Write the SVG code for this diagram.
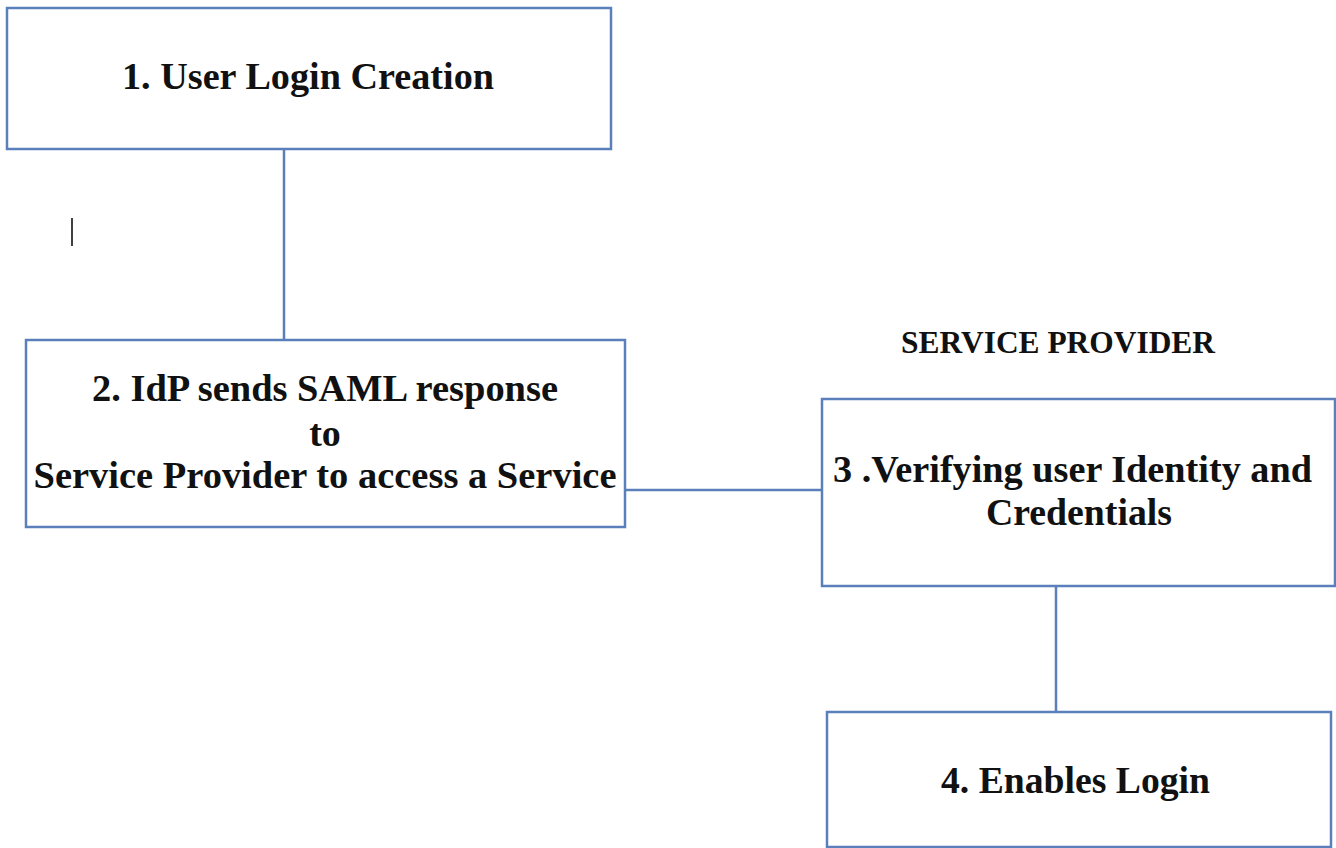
<svg xmlns="http://www.w3.org/2000/svg" width="1336" height="848" viewBox="0 0 1336 848">
  <style>
    .box { fill: #ffffff; stroke: #5a7fbb; stroke-width: 2.5; }
    .conn { stroke: #5a7fbb; stroke-width: 2.5; fill: none; }
    .t { font-family: "Liberation Serif", "Times New Roman", serif; font-weight: bold; font-size: 38px; fill: #111111; text-anchor: middle; }
    .hdr { font-family: "Liberation Serif", "Times New Roman", serif; font-weight: bold; font-size: 31px; fill: #111111; text-anchor: middle; }
  </style>
  <rect width="1336" height="848" fill="#ffffff"/>
  <g id="connectors">
    <line class="conn" x1="284" y1="149" x2="284" y2="340"/>
    <line class="conn" x1="625" y1="490" x2="822" y2="490"/>
    <line class="conn" x1="1056" y1="586" x2="1056" y2="712"/>
  </g>
  <g id="node1">
    <rect class="box" x="7" y="8" width="604" height="141"/>
    <text class="t" x="308" y="89" textLength="372" lengthAdjust="spacingAndGlyphs">1. User Login Creation</text>
  </g>
  <g id="node2">
    <rect class="box" x="26" y="340" width="599" height="187"/>
    <text class="t" x="325" y="401" textLength="466" lengthAdjust="spacingAndGlyphs">2. IdP sends SAML response</text>
    <text class="t" x="325" y="446">to</text>
    <text class="t" x="325" y="488" textLength="583" lengthAdjust="spacingAndGlyphs">Service Provider to access a Service</text>
  </g>
  <g id="label-service-provider">
    <text class="hdr" x="1058" y="353" textLength="314" lengthAdjust="spacingAndGlyphs">SERVICE PROVIDER</text>
  </g>
  <g id="node3">
    <rect class="box" x="822" y="399" width="513" height="187"/>
    <text class="t" x="1072.5" y="482" textLength="479" lengthAdjust="spacingAndGlyphs">3 .Verifying user Identity and</text>
    <text class="t" x="1079" y="525" textLength="186" lengthAdjust="spacingAndGlyphs">Credentials</text>
  </g>
  <g id="node4">
    <rect class="box" x="827" y="712" width="504" height="135"/>
    <text class="t" x="1075.5" y="793" textLength="269" lengthAdjust="spacingAndGlyphs">4. Enables Login</text>
  </g>
  <g id="cursor">
    <line x1="72" y1="218" x2="72" y2="246" stroke="#111111" stroke-width="1.6"/>
  </g>
</svg>
